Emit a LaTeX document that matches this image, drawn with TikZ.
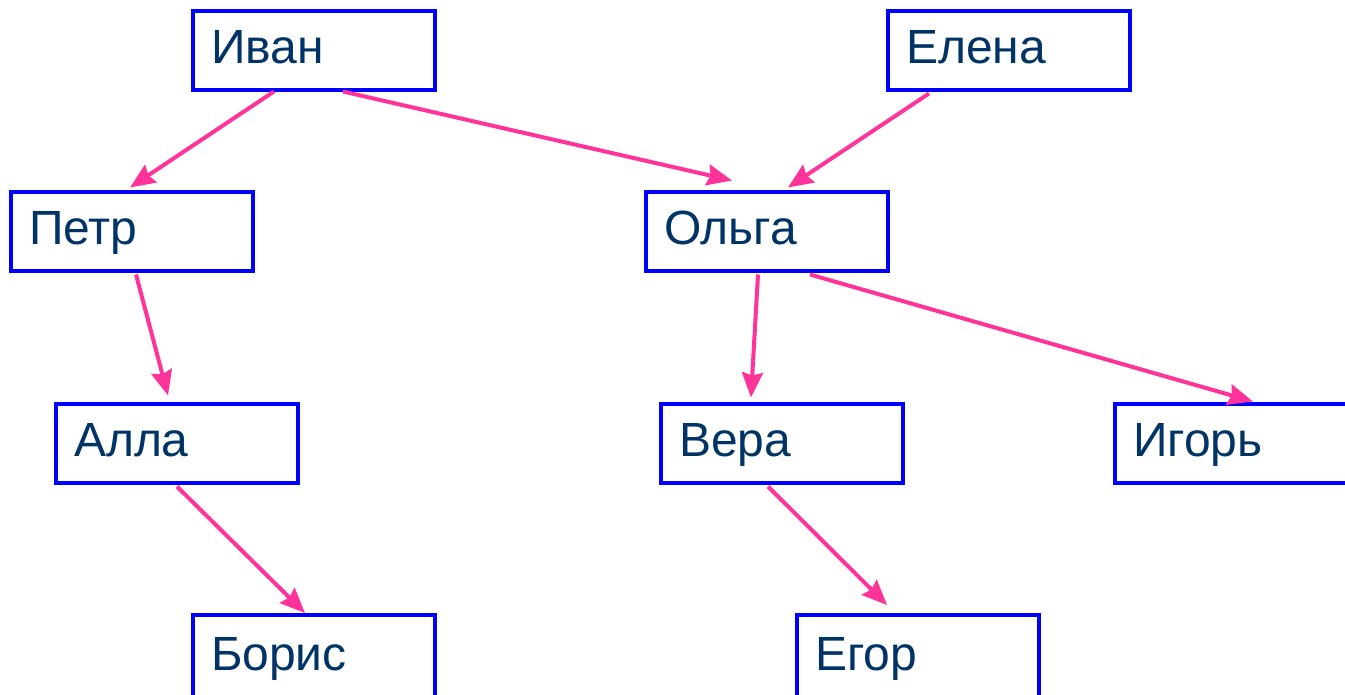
\documentclass[tikz,border=0pt]{standalone}
\usepackage{fontspec}
\setmainfont{Liberation Sans}
\usetikzlibrary{arrows.meta}
\definecolor{boxblue}{HTML}{0000FF}
\definecolor{txtnavy}{HTML}{003366}
\definecolor{arrpink}{HTML}{FF3399}
\begin{document}
\begin{tikzpicture}[x=1pt,y=-1pt,
  person/.style={draw=boxblue, line width=4pt, rectangle, minimum width=242pt, minimum height=79pt,
    text width=206pt, inner xsep=18pt, inner ysep=0pt, align=left, text=txtnavy,
    font=\fontsize{48}{54}\selectfont, text height=35pt, text depth=9pt},
  lowperson/.style={person, minimum height=85pt, text height=35pt, text depth=10pt},
  link/.style={draw=arrpink, line width=4pt, -{Stealth[length=25pt,width=21pt,inset=3pt]}}]
\useasboundingbox (0,0) rectangle (1345,694);
\clip (0,0) rectangle (1345,694);
\fill[white] (0,0) rectangle (1345,694);
\node[person] (ivan)  at (314,50)  {Иван};
\node[person] (elena) at (1009,50) {Елена};
\node[person] (petr)  at (132,231) {Петр};
\node[person] (olga)  at (767,231) {Ольга};
\node[person] (alla)  at (177,443) {Алла};
\node[person] (vera)  at (782,443) {Вера};
\node[person] (igor)  at (1236,443) {Игорь};
\node[lowperson] (boris) at (314,657.5) {Борис};
\node[lowperson] (egor)  at (918,657.5) {Егор};
\draw[link] ([xshift=83pt]ivan.south west) -- ([xshift=121pt,yshift=2pt]petr.north west);
\draw[link] ([xshift=152pt]ivan.south west) -- ([xshift=88pt,yshift=9pt]olga.north west);
\draw[link] ([xshift=43pt,yshift=-2pt]elena.south west) -- ([xshift=144pt,yshift=2pt]olga.north west);
\draw[link] ([xshift=127pt,yshift=-2pt]petr.south west) -- ([xshift=114pt,yshift=6pt]alla.north west);
\draw[link] ([xshift=114pt,yshift=-2pt]olga.south west) -- ([xshift=92pt,yshift=4pt]vera.north west);
\draw[link] ([xshift=166pt,yshift=-2pt]olga.south west) -- ([xshift=140pt,yshift=0pt]igor.north west);
\draw[link] ([yshift=-2pt]alla.south) -- ([xshift=-9pt,yshift=0pt]boris.north);
\draw[link] ([xshift=-14pt,yshift=-2pt]vera.south) -- ([xshift=-31pt,yshift=8pt]egor.north);
\end{tikzpicture}
\end{document}
